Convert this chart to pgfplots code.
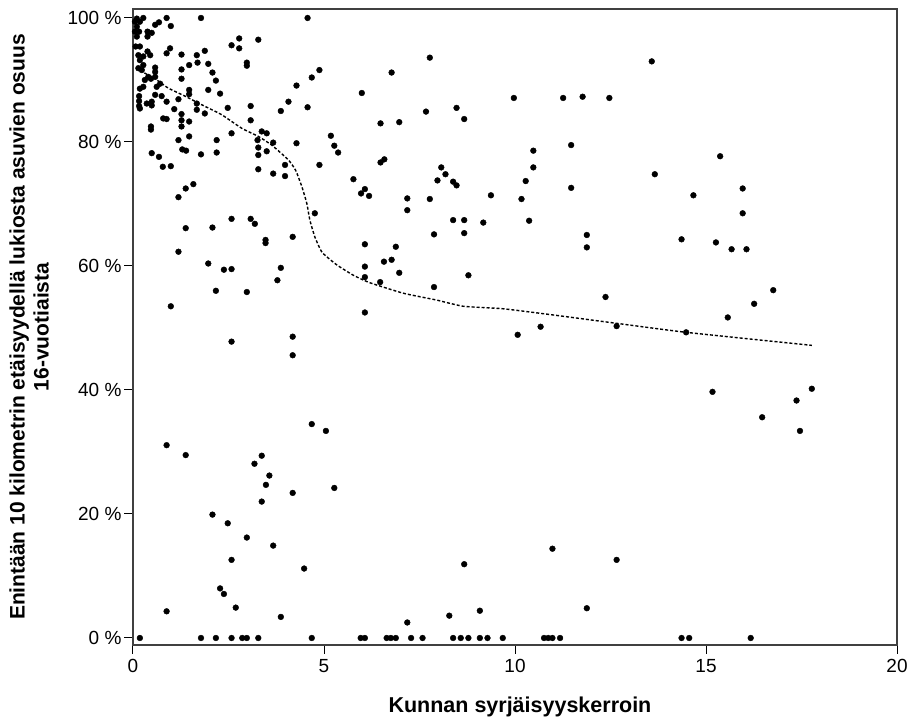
\documentclass[border=0pt]{standalone}
\usepackage{fontspec}
\setmainfont{Liberation Sans}
\usepackage{pgfplots}
\pgfplotsset{compat=1.18}
\begin{document}
\begin{tikzpicture}
\begin{axis}[
  scale only axis, width=764pt, height=636pt,
  xmin=0, xmax=20, ymin=-1.13, ymax=101.45,
  xtick={0,5,10,15,20}, xticklabels={0,5,10,15,20},
  ytick={0,20,40,60,80,100},
  yticklabels={0 \%,20 \%,40 \%,60 \%,80 \%,100 \%},
  tick align=outside, major tick length=9pt,
  xtick pos=bottom, ytick pos=left,
  axis line style={black!75, line width=1.3pt},
  tick style={black, line width=1pt},
  xticklabel style={font=\fontsize{19}{22}\selectfont, yshift=-2pt},
  yticklabel style={font=\fontsize{19}{22}\selectfont, xshift=1pt},
  xlabel={Kunnan syrjäisyyskerroin},
  ylabel={Enintään 10 kilometrin etäisyydellä lukiosta asuvien osuus\\16-vuotiaista},
  every axis x label/.style={at={(axis description cs:0.5065,-0.0975)}, anchor=center, font=\bfseries\fontsize{21.5}{25}\selectfont},
  every axis y label/.style={at={(axis description cs:-0.136,0.5)}, rotate=90, anchor=center, align=center, font=\bfseries\fontsize{21}{24}\selectfont},
  clip=false,
]
\addplot[only marks, mark=*, mark size=2.9pt, black] table {
x y
0.27 100
0.88 100
1.78 100
4.57 100
0.10 99.9
0.05 99.4
0.18 99.4
0.10 98.6
0.05 97.8
0.16 97.8
0.10 97.0
0.58 98.9
0.68 99.3
0.99 98.7
0.38 97.8
0.49 97.6
0.38 97.0
0.07 95.4
0.18 95.4
0.38 94.6
0.97 95.1
0.88 94.3
0.14 94.0
0.27 93.8
0.45 94.0
2.58 95.6
2.78 96.7
2.78 95.1
3.28 96.5
1.27 94.1
1.67 94.0
1.88 94.7
0.18 93.2
0.27 92.4
1.69 92.8
1.47 92.4
1.97 92.6
2.98 92.8
2.98 92.3
1.27 91.7
0.14 91.9
0.58 92.0
0.58 91.3
0.23 91.6
2.08 91.2
4.88 91.6
4.68 90.4
0.40 90.5
0.58 90.5
0.47 90.2
0.31 90.0
1.27 90.2
2.17 89.9
4.28 89.1
0.71 89.4
0.18 88.6
0.27 88.9
0.62 88.9
1.97 88.4
1.47 88.4
1.47 87.7
2.28 87.8
1.19 86.9
0.58 87.6
0.75 87.4
0.16 87.4
0.16 86.6
0.16 85.8
0.36 86.2
0.49 86.5
0.49 85.9
0.88 86.5
1.67 86.2
1.67 85.2
1.88 84.6
1.08 85.3
0.18 85.4
2.48 85.5
3.08 85.8
3.87 85.0
4.07 86.5
4.57 85.6
3.08 83.5
1.27 84.5
1.27 83.5
0.79 83.8
0.88 83.7
1.47 83.3
0.47 82.5
0.47 82.0
1.27 82.5
1.47 80.9
2.58 81.4
3.37 81.7
3.50 81.4
1.19 80.3
2.19 80.3
3.26 80.3
3.67 79.9
4.28 79.8
3.28 79.1
3.50 78.5
3.28 77.9
1.29 78.8
1.39 78.6
0.49 78.2
0.68 77.6
1.78 78.0
2.19 78.3
0.78 76.0
0.99 76.1
3.28 75.6
3.67 74.9
3.98 76.3
3.98 74.5
4.88 76.3
1.19 71.1
1.38 72.5
1.58 73.2
4.76 68.5
2.58 67.6
3.08 67.6
3.19 66.8
1.38 66.1
2.08 66.2
3.47 64.2
3.47 63.7
4.18 64.7
1.19 62.3
1.97 60.4
2.38 59.4
2.58 59.5
3.87 59.7
3.78 57.7
2.17 56.0
2.98 55.8
0.99 53.5
2.58 47.8
4.18 48.6
4.18 45.6
4.68 34.5
5.05 33.4
0.88 31.1
1.38 29.5
3.37 29.4
3.18 28.1
3.57 26.2
3.48 24.7
4.18 23.4
3.37 22.0
2.08 19.9
2.48 18.5
2.98 16.2
3.67 14.9
2.58 12.6
4.48 11.2
2.28 8.0
2.38 7.1
2.69 4.9
0.88 4.3
3.87 3.4
0.18 0
1.78 0
2.17 0
2.58 0
2.86 0
2.98 0
3.28 0
4.68 0
7.77 93.6
6.77 91.2
5.99 87.9
9.97 87.1
11.26 87.1
11.77 87.3
12.47 87.1
7.67 84.9
8.47 85.5
8.67 83.7
6.48 83.0
6.97 83.2
5.18 81.0
5.27 79.4
5.37 78.3
6.48 76.7
6.58 77.2
5.77 74.0
5.97 71.7
6.07 72.4
6.18 71.3
7.18 70.9
7.77 70.8
8.07 75.9
8.18 74.8
7.97 73.8
8.38 73.6
8.47 73.0
9.37 71.4
10.17 70.8
10.28 73.7
10.48 78.6
10.48 75.9
11.47 79.5
11.47 72.6
7.18 69.0
8.38 67.4
8.67 67.4
9.17 67.0
8.67 65.3
10.37 67.3
7.88 65.1
6.07 63.5
6.88 63.1
6.57 60.7
6.77 61.0
6.07 59.9
6.07 58.2
6.97 58.9
6.47 57.4
7.88 56.6
8.78 58.5
6.07 52.5
11.88 65.0
11.88 63.0
12.37 55.0
10.67 50.2
10.07 48.9
12.66 50.3
5.27 24.2
8.67 11.9
10.98 14.4
12.66 12.6
7.18 2.5
8.28 3.6
9.08 4.4
11.88 4.8
5.96 0
6.07 0
6.64 0
6.75 0
6.88 0
7.28 0
7.58 0
8.38 0
8.58 0
8.78 0
9.08 0
9.28 0
9.68 0
10.76 0
10.87 0
10.98 0
11.18 0
13.58 93.0
15.37 77.7
13.66 74.8
15.96 72.5
14.67 71.4
15.96 68.5
14.36 64.3
15.26 63.8
15.67 62.7
16.06 62.7
16.76 56.1
16.26 53.9
15.57 51.7
14.48 49.3
15.17 39.7
17.77 40.2
17.37 38.3
16.47 35.6
17.46 33.4
14.36 0
14.56 0
16.17 0
};
\addplot[black, line width=1.4pt, dash pattern=on 3pt off 2pt, smooth, tension=0.3] table {
x y
0.10 92.2
0.31 91.1
0.58 90.2
0.92 88.7
1.36 87.4
1.80 86.0
2.32 84.4
2.85 82.2
3.28 80.9
3.63 79.5
4.07 77.1
4.26 75.4
4.42 72.8
4.55 70.1
4.63 67.4
4.76 64.7
4.95 62.2
5.33 60.2
5.77 58.5
6.20 57.3
7.08 55.6
7.95 54.5
8.65 53.5
9.69 53.1
11.00 52.1
12.60 50.8
14.48 49.3
17.77 47.2
};
\end{axis}
\pgfresetboundingbox
\path[use as bounding box] ([xshift=-133pt,yshift=-74pt]current axis.south west) rectangle ++(907pt,719pt);
\end{tikzpicture}
\end{document}
